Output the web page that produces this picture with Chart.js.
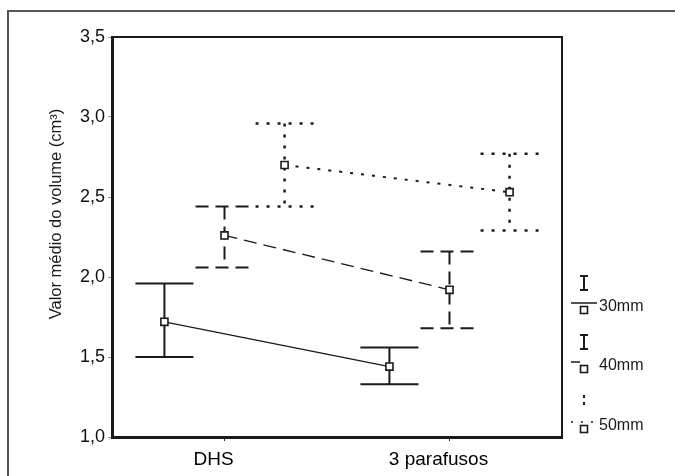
<!DOCTYPE html>
<html><head><meta charset="utf-8">
<script src="https://cdn.jsdelivr.net/npm/chart.js@4"></script>
<style>html,body{margin:0;padding:0;background:#fff}#wrap{width:675px;height:476px}</style>
</head><body><div id="wrap"><canvas id="c" width="675" height="476"></canvas></div>
<script>
// ---- data ----
const categories = ['DHS', '3 parafusos'];
const seriesNames = ['30mm', '40mm', '50mm'];
const means30 = [1.72, 1.44];
const upper30 = [1.96, 1.56];
const lower30 = [1.50, 1.33];
const means40 = [2.26, 1.92];
const upper40 = [2.44, 2.16];
const lower40 = [2.06, 1.68];
const means50 = [2.70, 2.53];
const upper50 = [2.96, 2.77];
const lower50 = [2.44, 2.29];
const yTicks = [1.0, 1.5, 2.0, 2.5, 3.0, 3.5];
const yTitle = 'Valor médio do volume (cm³)';

// ---- styles / layout ----
const clusterOffset = [-0.267, 0, 0.267];
const dashes = [[], [13, 7], [3, 8]];
const means = [means30, means40, means50];
const uppers = [upper30, upper40, upper50];
const lowers = [lower30, lower40, lower50];
const ink = '#1a1a1a';
const FONT = '"Liberation Sans", Arial, sans-serif';

const datasets = seriesNames.map((name, k) => ({
  label: name,
  data: categories.map((c, i) => ({x: i + clusterOffset[k], y: means[k][i]})),
  borderColor: ink,
  borderWidth: k === 2 ? 2 : 1.3,
  borderDash: dashes[k],
  pointStyle: 'rect',
  pointRadius: 5,
  pointBorderWidth: 1.6,
  pointBackgroundColor: '#fff',
  pointBorderColor: ink,
  fill: false,
  tension: 0
}));

const framePlugin = {
  id: 'frame',
  beforeDraw(chart) {
    const ctx = chart.ctx;
    ctx.save();
    ctx.fillStyle = '#fff';
    ctx.fillRect(0, 0, chart.width, chart.height);
    ctx.strokeStyle = '#555';
    ctx.lineWidth = 2;
    ctx.beginPath();
    ctx.moveTo(8, chart.height); ctx.lineTo(8, 11); ctx.lineTo(chart.width, 11);
    ctx.stroke();
    ctx.restore();
  },
  afterDraw(chart) {
    const ctx = chart.ctx, a = chart.chartArea;
    ctx.save();
    ctx.strokeStyle = ink;
    ctx.lineWidth = 2;
    ctx.beginPath();
    ctx.moveTo(a.left, a.top); ctx.lineTo(a.right, a.top); ctx.lineTo(a.right, a.bottom);
    ctx.stroke();
    // y title
    ctx.translate(61, 214);
    ctx.rotate(-Math.PI / 2);
    ctx.fillStyle = ink;
    ctx.font = '16.5px ' + FONT;
    ctx.textAlign = 'center';
    ctx.textBaseline = 'alphabetic';
    ctx.fillText(yTitle, 0, 0);
    ctx.restore();
    // legend
    ctx.save();
    const lx = 584;
    const ly = [307, 366, 426];
    seriesNames.forEach((name, k) => {
      const y = ly[k];
      ctx.strokeStyle = ink;
      ctx.lineWidth = 2;
      ctx.setLineDash(k === 2 ? [3, 4] : []);
      // error bar glyph
      ctx.beginPath();
      ctx.moveTo(lx, y - 31); ctx.lineTo(lx, y - 17);
      if (k < 2) {
        ctx.moveTo(lx - 4, y - 31); ctx.lineTo(lx + 4, y - 31);
        ctx.moveTo(lx - 4, y - 17); ctx.lineTo(lx + 4, y - 17);
      }
      ctx.stroke();
      // line sample
      ctx.lineWidth = 1.5;
      ctx.setLineDash(dashes[k].length ? (k === 1 ? [9, 30] : [2, 8]) : []);
      ctx.beginPath();
      ctx.moveTo(lx - 13, y - 4); ctx.lineTo(lx + 13, y - 4);
      ctx.stroke();
      ctx.setLineDash([]);
      ctx.fillStyle = '#fff';
      ctx.lineWidth = 1.6;
      ctx.fillRect(lx - 3.5, y - 0.5, 7, 7);
      ctx.strokeRect(lx - 3.5, y - 0.5, 7, 7);
      ctx.fillStyle = ink;
      ctx.font = '16px ' + FONT;
      ctx.textAlign = 'left';
      ctx.textBaseline = 'middle';
      ctx.fillText(name, lx + 15, y);
    });
    ctx.restore();
  }
};

const errorBarPlugin = {
  id: 'errbars',
  beforeDatasetsDraw(chart) {
    const ctx = chart.ctx, xs = chart.scales.x, ys = chart.scales.y;
    ctx.save();
    ctx.strokeStyle = ink;
    seriesNames.forEach((n, k) => {
      ctx.lineWidth = k === 2 ? 2.5 : 2;
      ctx.setLineDash(dashes[k]);
      categories.forEach((c, i) => {
        const x = xs.getPixelForValue(i + clusterOffset[k]);
        const yu = ys.getPixelForValue(uppers[k][i]);
        const yl = ys.getPixelForValue(lowers[k][i]);
        ctx.beginPath();
        ctx.moveTo(x, yu); ctx.lineTo(x, yl);
        ctx.moveTo(x - 29, yu); ctx.lineTo(x + 29, yu);
        ctx.moveTo(x - 29, yl); ctx.lineTo(x + 29, yl);
        ctx.stroke();
      });
    });
    ctx.restore();
  }
};

new Chart(document.getElementById('c'), {
  type: 'line',
  data: {datasets},
  plugins: [framePlugin, errorBarPlugin],
  options: {
    responsive: false,
    devicePixelRatio: 1,
    animation: false,
    layout: {padding: {top: 37, right: 113, left: 0, bottom: 0}},
    plugins: {legend: {display: false}, tooltip: {enabled: false}},
    scales: {
      x: {
        type: 'linear', min: -0.5, max: 1.5,
        afterBuildTicks: s => { s.ticks = categories.map((c, i) => ({value: i})); },
        afterFit: s => { s.height = 39; },
        ticks: {
          callback: v => categories[v] ?? '',
          font: {family: FONT, size: 19}, color: '#000', padding: 7, labelOffset: -11
        },
        grid: {drawOnChartArea: false, drawTicks: true, tickLength: 4, color: '#333', lineWidth: 1},
        border: {display: true, color: ink, width: 3}
      },
      y: {
        type: 'linear', min: 1, max: 3.5,
        afterBuildTicks: s => { s.ticks = yTicks.map(v => ({value: v})); },
        afterFit: s => { s.width = 112; },
        ticks: {
          callback: v => v.toFixed(1).replace('.', ','),
          font: {family: FONT, size: 18}, color: '#111', padding: 3
        },
        grid: {drawOnChartArea: false, drawTicks: true, tickLength: 4, color: '#999', lineWidth: 1},
        border: {display: true, color: ink, width: 3}
      }
    }
  }
});
</script></body></html>
